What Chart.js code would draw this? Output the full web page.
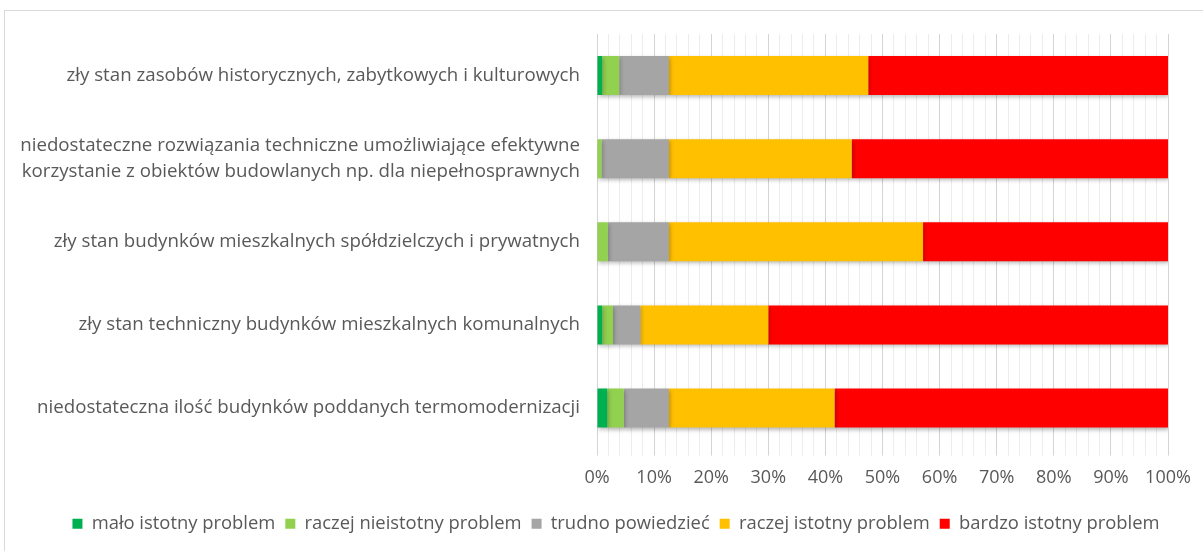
<!DOCTYPE html>
<html>
<head>
<meta charset="utf-8">
<script src="https://cdn.jsdelivr.net/npm/chart.js@4/dist/chart.umd.min.js"></script>
<style>
  html, body { margin: 0; padding: 0; background: #fff; }
  #frame { position: absolute; left: 4px; top: 10px; width: 1220px; height: 560px; border: 1px solid #d9d9d9; }
  #wrap { position: absolute; left: 0; top: 0; width: 1203px; height: 551px; }
</style>
</head>
<body>
<div id="frame"></div>
<div id="wrap"><canvas id="chart" width="1203" height="551"></canvas></div>
<script>
// problem categories, top to bottom
const categories = [
  'zły stan zasobów historycznych, zabytkowych i kulturowych',
  ['niedostateczne rozwiązania techniczne umożliwiające efektywne', 'korzystanie z obiektów budowlanych np. dla niepełnosprawnych'],
  'zły stan budynków mieszkalnych spółdzielczych i prywatnych',
  'zły stan techniczny budynków mieszkalnych komunalnych',
  'niedostateczna ilość budynków poddanych termomodernizacji'
];

const seriesNames = ['mało istotny problem', 'raczej nieistotny problem', 'trudno powiedzieć', 'raczej istotny problem', 'bardzo istotny problem'];

// shares in percent, one value per category
const maloIstotny = [0.9, 0, 0, 0.9, 1.8];
const raczejNieistotny = [3.0, 0.8, 1.9, 1.9, 2.9];
const trudnoPowiedziec = [8.7, 11.8, 10.7, 4.8, 7.9];
const raczejIstotny = [34.9, 32.0, 44.5, 22.4, 29.0];
const bardzoIstotny = [52.5, 55.4, 42.9, 70.0, 58.4];

const seriesColors = ['#00b050', '#92d050', '#a5a5a5', '#ffc000', '#ff0000'];
const seriesValues = [maloIstotny, raczejNieistotny, trudnoPowiedziec, raczejIstotny, bardzoIstotny];

const FONT = "'Open Sans', sans-serif";
const TEXT = '#595959';

// soft shadow under the bars
const barShadow = {
  id: 'barShadow',
  beforeDatasetsDraw(chart) {
    const ctx = chart.ctx;
    ctx.save();
    ctx.shadowColor = 'rgba(0,0,0,0.28)';
    ctx.shadowBlur = 4;
    ctx.shadowOffsetX = 1;
    ctx.shadowOffsetY = 2;
  },
  afterDatasetsDraw(chart) {
    chart.ctx.restore();
  }
};

// nudge the legend row a bit to the right so it sits under the plot
const legendShift = {
  id: 'legendShift',
  afterLayout(chart) {
    chart.legend.left += 32;
    chart.legend.right += 32;
  }
};

new Chart(document.getElementById('chart'), {
  type: 'bar',
  data: {
    labels: categories,
    datasets: seriesNames.map((name, i) => ({
      label: name,
      data: seriesValues[i],
      backgroundColor: seriesColors[i],
      borderWidth: 0,
      barPercentage: 0.47,
      categoryPercentage: 1
    }))
  },
  options: {
    indexAxis: 'y',
    responsive: false,
    animation: false,
    layout: { padding: { top: 34, right: 35, left: 0, bottom: 8 } },
    scales: {
      x: {
        stacked: true,
        min: 0,
        max: 100,
        border: { display: false },
        grid: {
          color: c => (c.tick && c.tick.value % 10 === 0) ? '#d4d4d4' : '#ececec',
          tickLength: 6
        },
        ticks: {
          stepSize: 2,
          autoSkip: false,
          maxRotation: 0,
          padding: 11,
          color: TEXT,
          font: { family: FONT, size: 18 },
          callback: v => (v % 10 === 0 ? v + '%' : '')
        },
        afterFit: s => { s.height = 55; }
      },
      y: {
        stacked: true,
        border: { display: false },
        grid: { display: false, drawTicks: false },
        ticks: {
          padding: 17,
          color: TEXT,
          font: { family: FONT, size: 18.7, lineHeight: 1.35 }
        },
        afterFit: s => { s.width = 597; }
      }
    },
    plugins: {
      legend: {
        position: 'bottom',
        labels: {
          boxWidth: 10,
          boxHeight: 10,
          padding: 10,
          color: TEXT,
          font: { family: FONT, size: 18.4 }
        }
      },
      tooltip: { enabled: false }
    }
  },
  plugins: [barShadow, legendShift]
});
</script>
</body>
</html>
